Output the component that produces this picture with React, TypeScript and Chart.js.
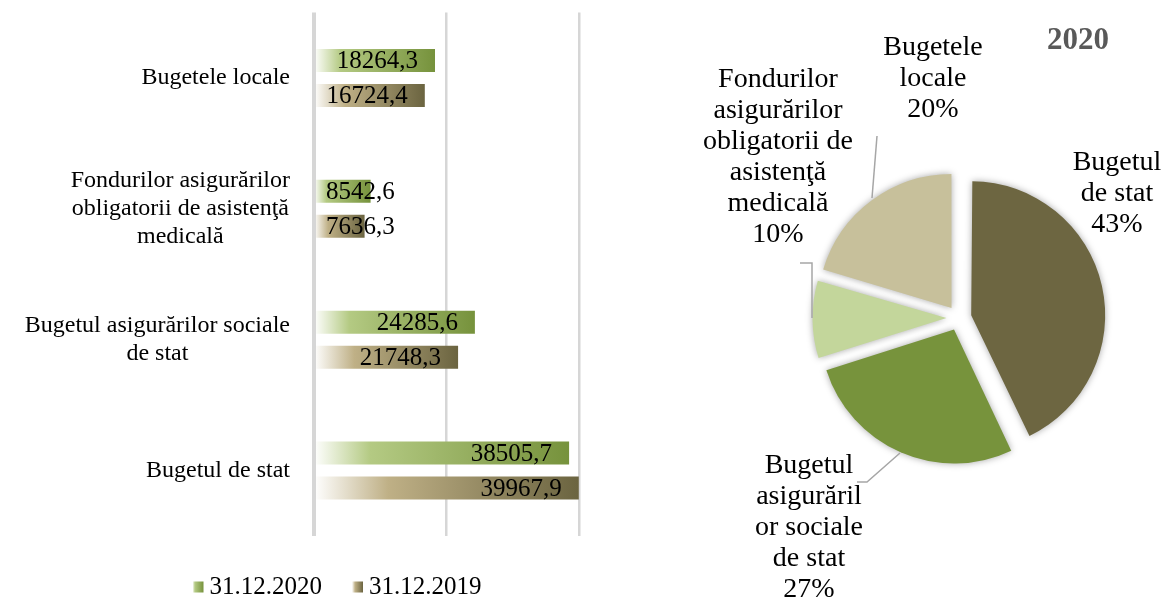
import React, { useEffect, useRef } from "react";
import { Chart, registerables } from "chart.js";

Chart.register(...registerables);

// ---------- data ----------
const categories: string[][] = [
  ["Bugetele locale"],
  ["Fondurilor asigurărilor", "obligatorii de asistenţă", "medicală"],
  ["Bugetul asigurărilor sociale", "de stat"],
  ["Bugetul de stat"],
];
const series2020 = [18264.3, 8542.6, 24285.6, 38505.7];
const series2019 = [16724.4, 7636.3, 21748.3, 39967.9];
const seriesNames = ["31.12.2020", "31.12.2019"];
const xMax = 40000;
const xStep = 20000;

const pieTitle = "2020";
const pieNames: string[][] = [
  ["Bugetul", "de stat"],
  ["Bugetul", "asigurăril", "or sociale", "de stat"],
  ["Fondurilor", "asigurărilor", "obligatorii de", "asistenţă", "medicală"],
  ["Bugetele", "locale"],
];
const pieValues = [38505.7, 24285.6, 8542.6, 18264.3];

// ---------- styles ----------
const FONT = '"Liberation Serif", "DejaVu Serif", serif';
const grad2020: [number, string][] = [
  [0, "#ffffff"],
  [0.22, "#b4ca83"],
  [1, "#76923c"],
];
const grad2019: [number, string][] = [
  [0, "#ffffff"],
  [0.28, "#bfb086"],
  [1, "#6b6440"],
];
const pieColors = ["#6d6641", "#77933c", "#c3d69b", "#c7c09b"];
// label placement relative to pie centre (first line centre), and leader lines
const pieLabelPos = [
  { dx: 158, dy: -155 },
  { dx: -150, dy: 148 },
  { dx: -181, dy: -238 },
  { dx: -26, dy: -270 },
];
const pieLeaders: number[][][] = [
  [],
  [[-102, 164], [-92, 164], [-59, 135]],
  [[-159, -55], [-147, -55], [-147, 0]],
  [[-82, -182], [-87, -120]],
];

const fmt = (v: number) => v.toFixed(1).replace(".", ",");

function makeGradient(ctx: any, stops: [number, string][]) {
  const chart = ctx.chart;
  const xs = chart.scales && chart.scales.x;
  const v = ctx.raw;
  if (!xs || !chart.chartArea || typeof v !== "number") return stops[stops.length - 1][1];
  const x0 = xs.getPixelForValue(0);
  const x1 = xs.getPixelForValue(v);
  const g = chart.ctx.createLinearGradient(x0, 0, x1, 0);
  stops.forEach(([o, c]) => g.addColorStop(o, c));
  return g;
}

const barLabelPlugin = {
  id: "barLabels",
  afterDatasetsDraw(chart: any) {
    const c = chart.ctx;
    c.save();
    c.font = `25px ${FONT}`;
    c.fillStyle = "#000";
    c.textBaseline = "middle";
    c.textAlign = "right";
    chart.data.datasets.forEach((ds: any, di: number) => {
      const meta = chart.getDatasetMeta(di);
      meta.data.forEach((bar: any, i: number) => {
        const txt = fmt(ds.data[i]);
        const w = c.measureText(txt).width;
        let right = bar.x - 17;
        if (right - w < bar.base + 10) right = bar.base + 10 + w;
        c.fillText(txt, right, bar.y + 1);
      });
    });
    c.restore();
  },
  afterDraw(chart: any) {
    const c = chart.ctx;
    const ys = chart.scales.y;
    const area = chart.chartArea;
    c.save();
    c.font = `24px ${FONT}`;
    c.fillStyle = "#000";
    c.textBaseline = "middle";
    c.textAlign = "center";
    const lh = 28;
    categories.forEach((lines, i) => {
      const yc = ys.getPixelForValue(i);
      const maxW = Math.max(...lines.map((l) => c.measureText(l).width));
      const cx = area.left - 24 - maxW / 2;
      lines.forEach((l, k) => {
        c.fillText(l, cx, yc + (k - (lines.length - 1) / 2) * lh);
      });
    });
    // legend
    c.font = `25px ${FONT}`;
    c.textAlign = "left";
    const sq = 11, gap = 6, itemGap = 30;
    const widths = seriesNames.map((n) => sq + gap + c.measureText(n).width);
    const total = widths.reduce((a, b) => a + b, 0) + itemGap;
    let x = 337 - total / 2;
    const y = 587;
    seriesNames.forEach((n, i) => {
      const stops = i === 0 ? grad2020 : grad2019;
      const g = c.createLinearGradient(x, 0, x + sq, 0);
      stops.forEach(([o, col]) => g.addColorStop(o, col));
      c.fillStyle = g;
      c.fillRect(x, y - sq / 2, sq, sq);
      c.fillStyle = "#000";
      c.fillText(n, x + sq + gap, y);
      x += widths[i] + itemGap;
    });
    c.restore();
  },
};

const pieDecorPlugin = {
  id: "pieDecor",
  beforeDatasetsDraw(chart: any) {
    // keep every exploded slice at the same outer radius
    const meta = chart.getDatasetMeta(0);
    meta.data.forEach((arc: any) => {
      if (arc.$baseR === undefined) arc.$baseR = arc.outerRadius;
      const off = ((arc.options && arc.options.offset) || 0) / 4;
      const fix = 1 - Math.sin(Math.min(Math.PI, arc.circumference || 0));
      arc.outerRadius = arc.$baseR - off * fix;
    });
    const c = chart.ctx;
    c.save();
    c.shadowColor = "rgba(0,0,0,0.35)";
    c.shadowBlur = 7;
  },
  afterDatasetsDraw(chart: any) {
    chart.ctx.restore();
  },
  afterDraw(chart: any) {
    const c = chart.ctx;
    const arc = chart.getDatasetMeta(0).data[0];
    const cx = arc.x, cy = arc.y;
    const total = pieValues.reduce((a, b) => a + b, 0);
    c.save();
    // leader lines
    c.strokeStyle = "#a6a6a6";
    c.lineWidth = 1.5;
    pieLeaders.forEach((pts) => {
      if (!pts.length) return;
      c.beginPath();
      pts.forEach(([dx, dy], k) => {
        if (k === 0) c.moveTo(cx + dx, cy + dy);
        else c.lineTo(cx + dx, cy + dy);
      });
      c.stroke();
    });
    // labels
    c.font = `28px ${FONT}`;
    c.fillStyle = "#000";
    c.textAlign = "center";
    c.textBaseline = "middle";
    const lh = 31;
    pieNames.forEach((lines, i) => {
      const pct = Math.round((pieValues[i] / total) * 100) + "%";
      const all = [...lines, pct];
      const p = pieLabelPos[i];
      all.forEach((l, k) => c.fillText(l, cx + p.dx, cy + p.dy + k * lh));
    });
    // title
    c.font = `bold 31px ${FONT}`;
    c.fillStyle = "#595959";
    c.fillText(pieTitle, cx + 119, cy - 277);
    c.restore();
  },
};

export default function App() {
  const barRef = useRef<HTMLCanvasElement>(null);
  const pieRef = useRef<HTMLCanvasElement>(null);

  useEffect(() => {
    const bar = new Chart(barRef.current as HTMLCanvasElement, {
      type: "bar",
      data: {
        labels: categories.map((l) => l.join(" ")),
        datasets: [
          {
            label: seriesNames[0],
            data: series2020,
            backgroundColor: (ctx: any) => makeGradient(ctx, grad2020),
            borderWidth: 0,
            categoryPercentage: 0.534,
            barPercentage: 0.657,
          },
          {
            label: seriesNames[1],
            data: series2019,
            backgroundColor: (ctx: any) => makeGradient(ctx, grad2019),
            borderWidth: 0,
            categoryPercentage: 0.534,
            barPercentage: 0.657,
          },
        ],
      },
      options: {
        indexAxis: "y",
        responsive: false,
        animation: false,
        layout: { padding: { left: 314, right: 61, top: 12.5, bottom: 61 } },
        plugins: { legend: { display: false }, tooltip: { enabled: false } },
        scales: {
          x: {
            min: 0,
            max: xMax,
            ticks: { display: false, stepSize: xStep },
            grid: {
              drawTicks: false,
              color: "#d6d6d6",
              lineWidth: (ctx: any) => (ctx.index === 0 ? 4 : 2.5),
            },
            border: { display: false },
            afterFit: (s: any) => {
              s.height = 0;
            },
          },
          y: {
            display: false,
          },
        },
      } as any,
      plugins: [barLabelPlugin],
    });

    const pie = new Chart(pieRef.current as HTMLCanvasElement, {
      type: "pie",
      data: {
        labels: pieNames.map((l) => l.join(" ")),
        datasets: [
          {
            data: pieValues,
            backgroundColor: pieColors,
            borderWidth: 0,
            offset: 50,
            radius: 134,
          } as any,
        ],
      },
      options: {
        responsive: false,
        animation: false,
        layout: { padding: { left: 169, right: 59, top: 168, bottom: 129 } },
        plugins: { legend: { display: false }, tooltip: { enabled: false } },
      } as any,
      plugins: [pieDecorPlugin],
    });

    return () => {
      bar.destroy();
      pie.destroy();
    };
  }, []);

  return (
    <div
      style={{
        position: "fixed",
        left: 0,
        top: 0,
        width: 1168,
        height: 597,
        background: "#fff",
        overflow: "hidden",
      }}
    >
      <canvas
        ref={barRef}
        width={640}
        height={597}
        style={{ position: "absolute", left: 0, top: 0, width: 640, height: 597 }}
      />
      <canvas
        ref={pieRef}
        width={528}
        height={597}
        style={{ position: "absolute", left: 640, top: 0, width: 528, height: 597 }}
      />
    </div>
  );
}
